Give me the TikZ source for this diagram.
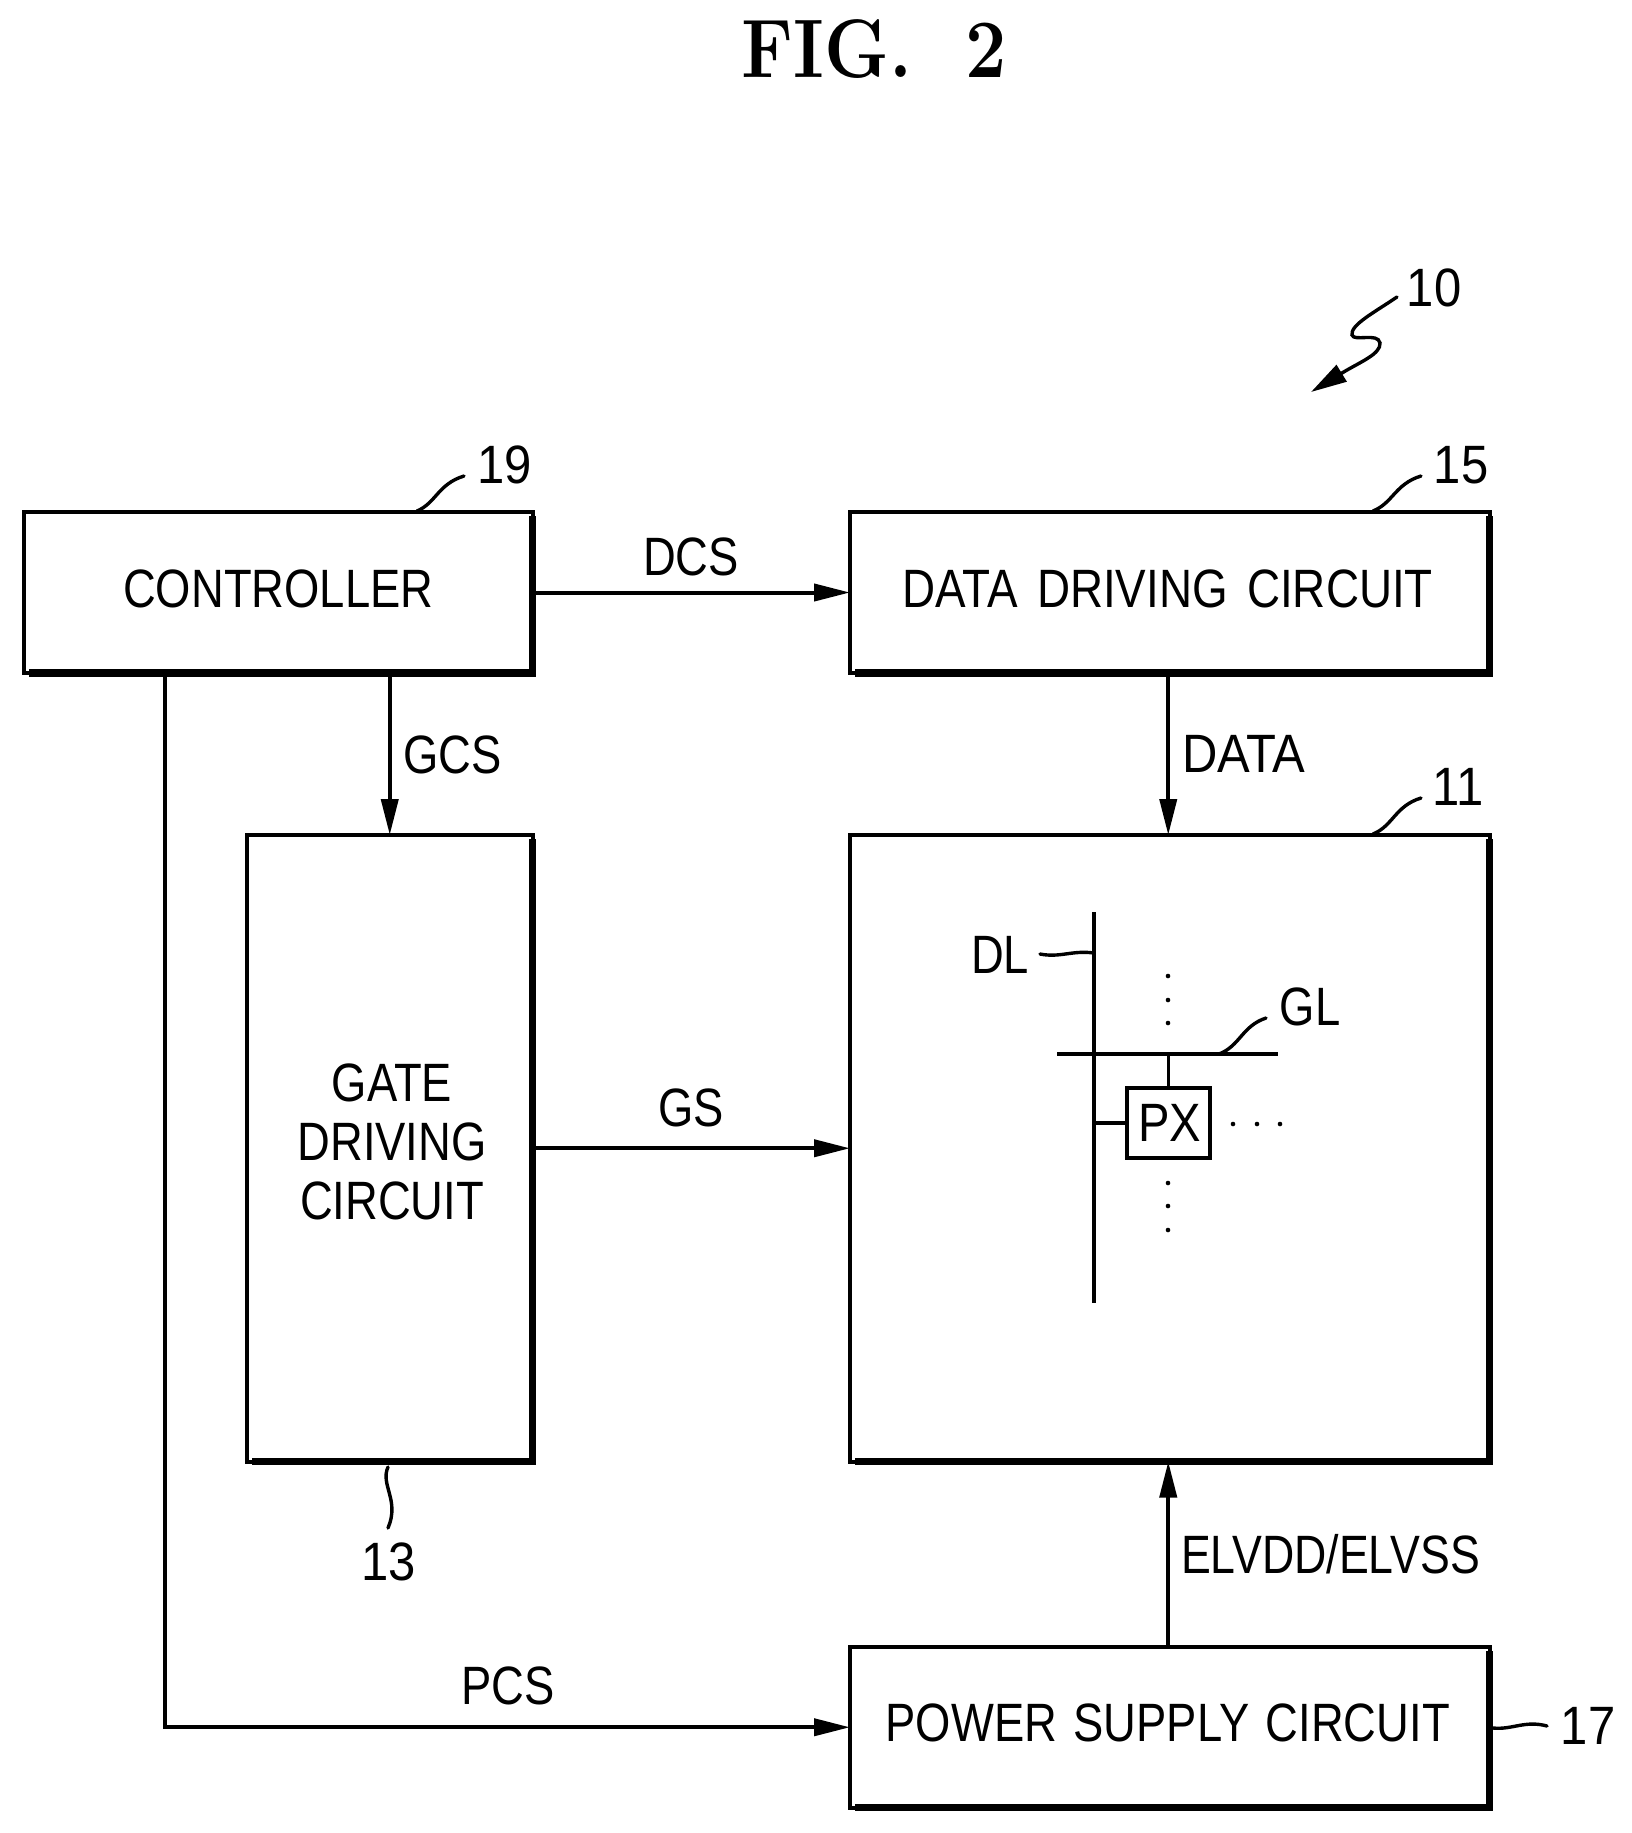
\documentclass[tikz,border=0pt]{standalone}
\usepackage{fontspec}
\usetikzlibrary{arrows.meta}
\newfontfamily\labfont[FakeStretch=.84]{Liberation Sans}
\newcommand{\labsize}{\labfont\fontsize{27pt}{29.5pt}\selectfont}
\newcommand{\numlab}[1]{\scalebox{1.08}[1]{#1}}
\tikzset{
  x=0.5pt,y=-0.5pt,
  every node/.style={inner sep=0pt,outer sep=0pt},
  block/.style={draw,line width=2pt,font=\labsize,align=center,miter limit=10},
  oneline/.style={text height=19pt,text depth=4.5pt},
  heavyedge/.style={line width=3.75pt,line join=miter},
  wire/.style={line width=2pt},
  flow/.style={wire,-{Triangle[length=18pt,width=8.5pt]}},
  fine/.style={line width=1.8pt},
  leader/.style={line width=1.7pt,line cap=round},
  lab/.style={font=\labsize,anchor=base},
  dotmark/.style={fill=black},
}
\newcommand{\heavy}[1]{\draw[heavyedge] ([yshift=-2pt]#1.north east) -- (#1.south east) -- ([xshift=2.5pt]#1.south west);}
\begin{document}
\begin{tikzpicture}
\useasboundingbox (0,0) rectangle (1632,1833);
% title
\node[anchor=base] (title) at (874,77) {\fontsize{41.5pt}{45pt}\selectfont\scalebox{.885}[1]{\bfseries FIG.\hspace*{30pt}2}};
% blocks
\node[block,oneline,minimum width=254.25pt,minimum height=80.5pt] (ctrl) at (278.25,592.5) {CONTROLLER};
\node[block,oneline,minimum width=319.75pt,minimum height=80.5pt] (data) at (1169.75,592.5) {\scalebox{1.01}[1]{DATA\hspace*{3.2pt} DRIVING\hspace*{3.2pt} CIRCUIT}\hspace*{2pt}};
\node[block,minimum width=142.75pt,minimum height=313.25pt] (gate) at (389.75,1148.25) {\hspace*{2.3pt}GATE\\\hspace*{2.3pt}DRIVING\\\hspace*{2.3pt}CIRCUIT\rule[-6.5pt]{0pt}{6.5pt}};
\node[block,minimum width=319.75pt,minimum height=313.25pt] (panel) at (1169.75,1148.25) {};
\node[block,oneline,minimum width=319.75pt,minimum height=80.25pt] (power) at (1169.75,1727.25) {POWER\hspace*{2pt} SUPPLY\hspace*{2pt} CIRCUIT\hspace*{2pt}};
% connectors
\coordinate (pcsstart) at (164.5,673);
\draw[flow] (ctrl.east) -- (data.west);
\draw[flow] (ctrl.south -| gate.north) -- (gate.north);
\draw[flow] ([xshift=-.75pt]data.south) -- ([xshift=-.75pt]panel.north);
\draw[flow] (gate.east) -- (panel.west);
\draw[flow] ([xshift=-.75pt]power.north) -- ([xshift=-.75pt]panel.south);
\draw[flow] (pcsstart) |- (power.west);
\heavy{ctrl}\heavy{data}\heavy{gate}\heavy{panel}\heavy{power}
% signal labels
\node[lab] (dcs) at (691,575) {DCS};
\node[lab,anchor=base west] (gcs) at (403,773) {GCS};
\node[lab,anchor=base west] (datalab) at (1182,772) {\scalebox{1.08}[1]{DATA}};
\node[lab] (gs) at (691,1126) {GS};
\node[lab] (pcs) at (508,1704) {PCS};
\node[lab,anchor=base west] (elv) at (1181,1573) {\scalebox{.985}[1]{ELVDD/ELVSS}};
% reference numerals
\node[lab] (n19) at (505,483) {\numlab{19}};
\node[lab] (n15) at (1461,483) {\numlab{15}};
\node[lab] (n11) at (1458,805) {\numlab{11}};
\node[lab] (n10) at (1434,306) {\numlab{10}};
\node[lab] (n13) at (389,1580) {\numlab{13}};
\node[lab] (n17) at (1588,1744) {\numlab{17}};
\coordinate (a19) at (464,476);\coordinate (b19) at (417,511);
\coordinate (a15) at (1421,476);\coordinate (b15) at (1373,511);
\coordinate (a11) at (1421,798);\coordinate (b11) at (1373,834);
\coordinate (a13) at (388,1467);\coordinate (b13) at (388,1528);
\coordinate (a17) at (1493,1728);\coordinate (b17) at (1547,1726);
\draw[leader] (a19) .. controls (438,484) and (436,503) .. (b19);
\draw[leader] (a15) .. controls (1395,484) and (1393,503) .. (b15);
\draw[leader] (a11) .. controls (1395,806) and (1393,826) .. (b11);
\draw[leader] (a13) .. controls (380,1485) and (400,1500) .. (b13);
\draw[leader] (a17) .. controls (1512,1730) and (1525,1720) .. (b17);
\coordinate (a10) at (1397,297);\coordinate (b10) at (1311,392);
\draw[leader,-{Triangle[length=18pt,width=9.5pt]}] (a10) .. controls (1375,312) and (1350,325) .. (1352,335)
  .. controls (1354,342) and (1378,332) .. (1380,343)
  .. controls (1381,354) and (1360,362) .. (1342,373) -- (b10);
% pixel detail
\coordinate (dltop) at (1094,912);\coordinate (dlbot) at (1094,1303);
\coordinate (glleft) at (1057,1054);\coordinate (glright) at (1278,1054);
\node[draw,fine,font=\labsize,minimum width=41.5pt,minimum height=35pt] (px) at (1168.5,1123) {\hspace*{1pt}\scalebox{1.04}[1]{PX}};
\draw[fine] (dltop) -- (dlbot);
\draw[fine] (glleft) -- (glright);
\draw[fine] (px.north) -- (px.north |- glleft);
\draw[fine] (px.west) -- (px.west -| dltop);
\node[lab] (dl) at (1000,973) {DL};
\node[lab] (gl) at (1310,1025) {GL};
\coordinate (adl) at (1040,954);\coordinate (bdl) at (1094,953);
\coordinate (agl) at (1266,1018);\coordinate (bgl) at (1219,1054);
\draw[leader] (adl) .. controls (1060,958) and (1072,950) .. (bdl);
\draw[leader] (agl) .. controls (1242,1026) and (1240,1046) .. (bgl);
\foreach \yy in {976,1000,1023,1183,1206,1230} \fill[dotmark] (1168,\yy) circle[radius=2.3];
\foreach \xx in {1233,1257,1280} \fill[dotmark] (\xx,1124) circle[radius=2.3];
\end{tikzpicture}
\end{document}
